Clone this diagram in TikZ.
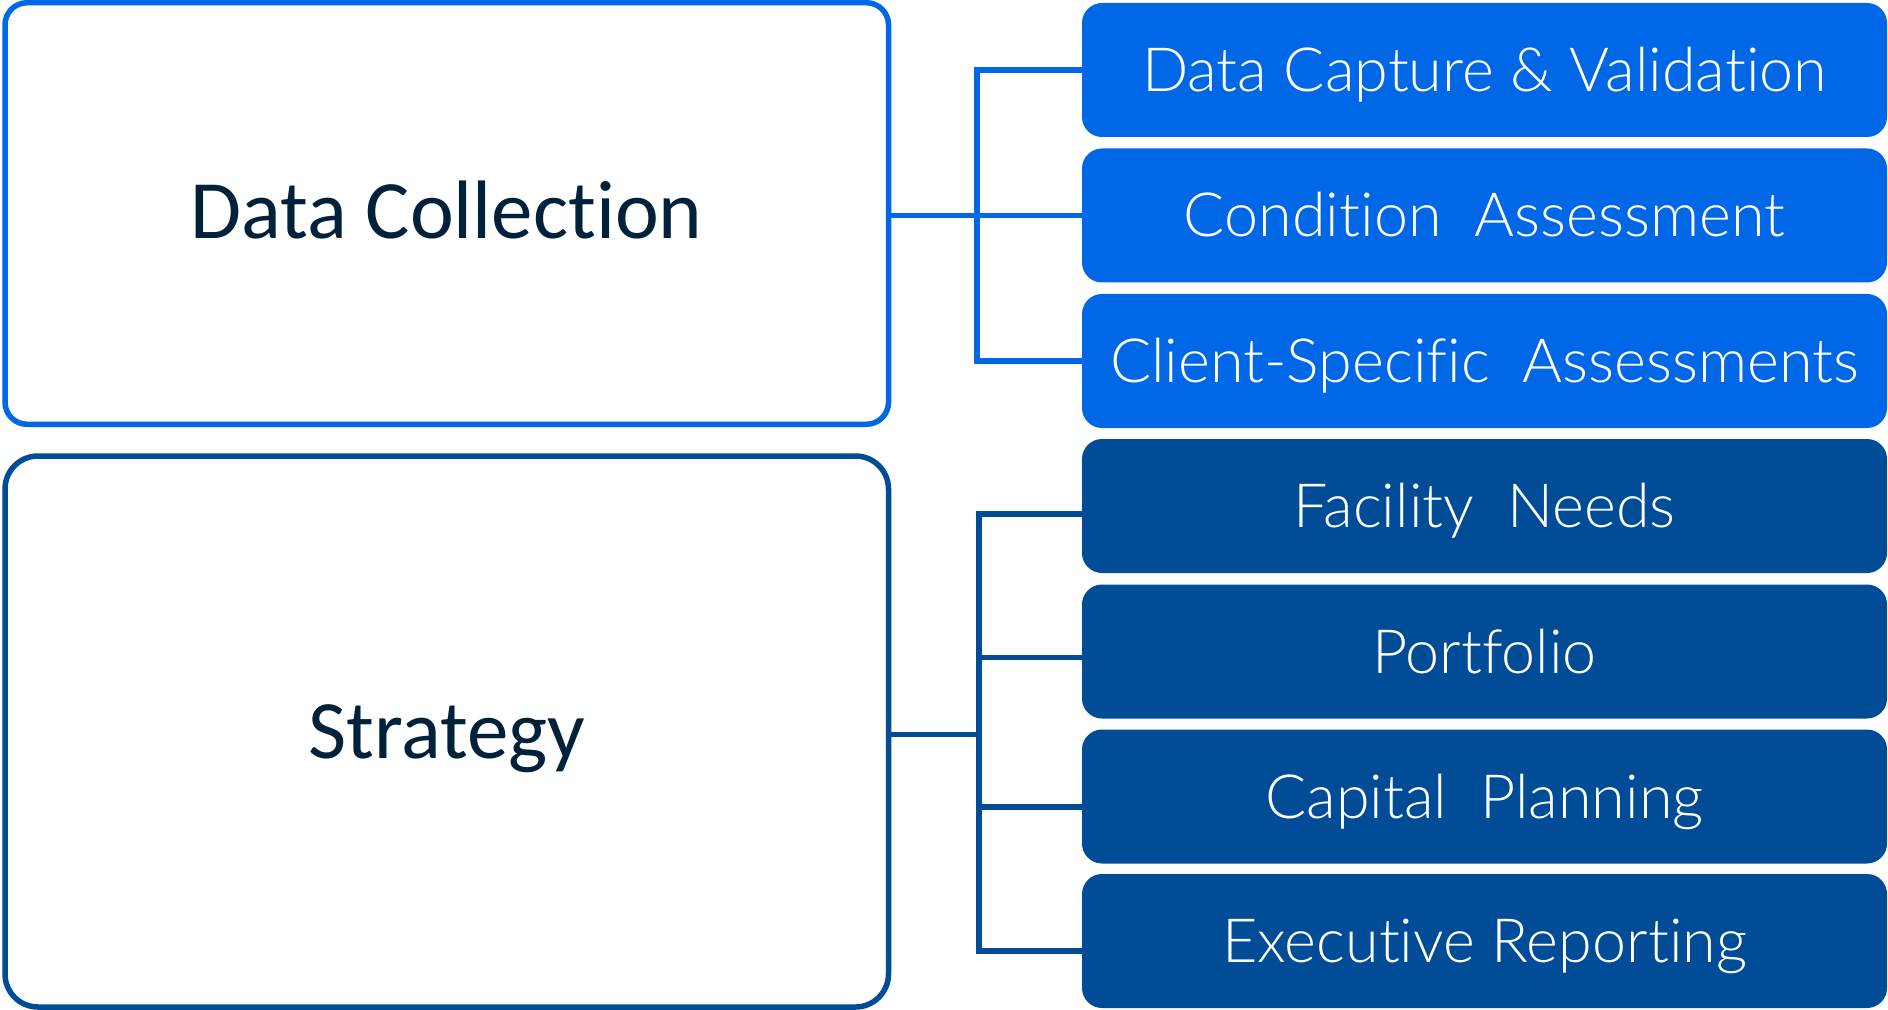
\documentclass[tikz,border=0pt]{standalone}
\usepackage{fontspec}
\setmainfont{Carlito}[Ligatures={NoCommon,NoContextual}]
\newfontfamily\lightfont{Lato Light}[Ligatures={NoCommon,NoContextual}]
\usetikzlibrary{calc}
\definecolor{brightblue}{RGB}{0,103,230}
\definecolor{darkblue}{RGB}{0,76,151}
\definecolor{navytext}{RGB}{0,33,58}
\tikzset{
  leftbox/.style={draw, line width=2.75pt, fill=white, inner sep=0pt, outer sep=0pt,
    minimum width=441.75pt, font=\fontsize{41}{49}\selectfont, text=navytext},
  itembox/.style={inner sep=0pt, outer sep=0pt, rounded corners=10pt,
    minimum width=402.5pt, minimum height=67pt},
  itemA/.style={itembox, fill=brightblue},
  itemB/.style={itembox, fill=darkblue},
  itemtext/.style={anchor=base, text=white, font=\lightfont\fontsize{30.5}{36}\selectfont, inner sep=0pt},
  link/.style={line width=2.75pt}
}
\begin{document}
\begin{tikzpicture}[x=0.5pt,y=-0.5pt]
\useasboundingbox (0,0) rectangle (1888,1010);
% left boxes
\node[leftbox, draw=brightblue, minimum height=210.75pt, rounded corners=11pt] (dc) at (446.75,213.5) {};
\node[leftbox, draw=darkblue, minimum height=275.5pt, rounded corners=16.5pt] (st) at (446.75,731.5) {};
\node[anchor=base, font=\fontsize{41.5}{49}\selectfont, text=navytext, inner sep=0pt] (dct) at (446.75,239) {Data Collection};
\node[anchor=base, font=\fontsize{41.5}{49}\selectfont, text=navytext, inner sep=0pt] (stt) at (446.75,758) {Strategy};
% right boxes
\node[itemA] (b1) at (1484.5,70) {};
\node[itemA] (b2) at (1484.5,215.5) {};
\node[itemA] (b3) at (1484.5,361) {};
\node[itemB] (b4) at (1484.5,506) {};
\node[itemB] (b5) at (1484.5,651.5) {};
\node[itemB] (b6) at (1484.5,796.5) {};
\node[itemB] (b7) at (1484.5,941) {};
\foreach \n/\t in {b1/{Data Capture \& Validation}, b2/{Condition\ \ Assessment}, b3/{Client-Specific\ \ Assessments}, b4/{Facility\ \ Needs}, b5/{Portfolio}, b6/{Capital\ \ Planning}, b7/{Executive Reporting}}{
  \node[itemtext] (\n t) at ($(\n.center)+(0,21.5)$) {\t};
}
% group 1 bracket
\coordinate (g1top) at (977,70);
\coordinate (g1bot) at (977,361);
\draw[link, brightblue] (b1.west) -- (g1top) -- (g1bot) -- (b3.west);
\draw[link, brightblue] (b2.west -| dc.east) -- (b2.west);
% group 2 bracket
\coordinate (g2a) at ($(b4.west)+(0,8)$);
\coordinate (g2b) at ($(b5.west)+(0,6)$);
\coordinate (g2c) at ($(b6.west)+(0,10.5)$);
\coordinate (g2d) at ($(b7.west)+(0,10)$);
\coordinate (g2top) at (979,514);
\coordinate (g2bot) at (979,951);
\coordinate (g2mid) at (979,734.5);
\draw[link, darkblue] (g2a) -- (g2top) -- (g2bot) -- (g2d);
\draw[link, darkblue] (g2b) -- (g2b -| g2top);
\draw[link, darkblue] (g2c) -- (g2c -| g2top);
\draw[link, darkblue] (st.east |- g2mid) -- (g2mid);
\end{tikzpicture}
\end{document}
